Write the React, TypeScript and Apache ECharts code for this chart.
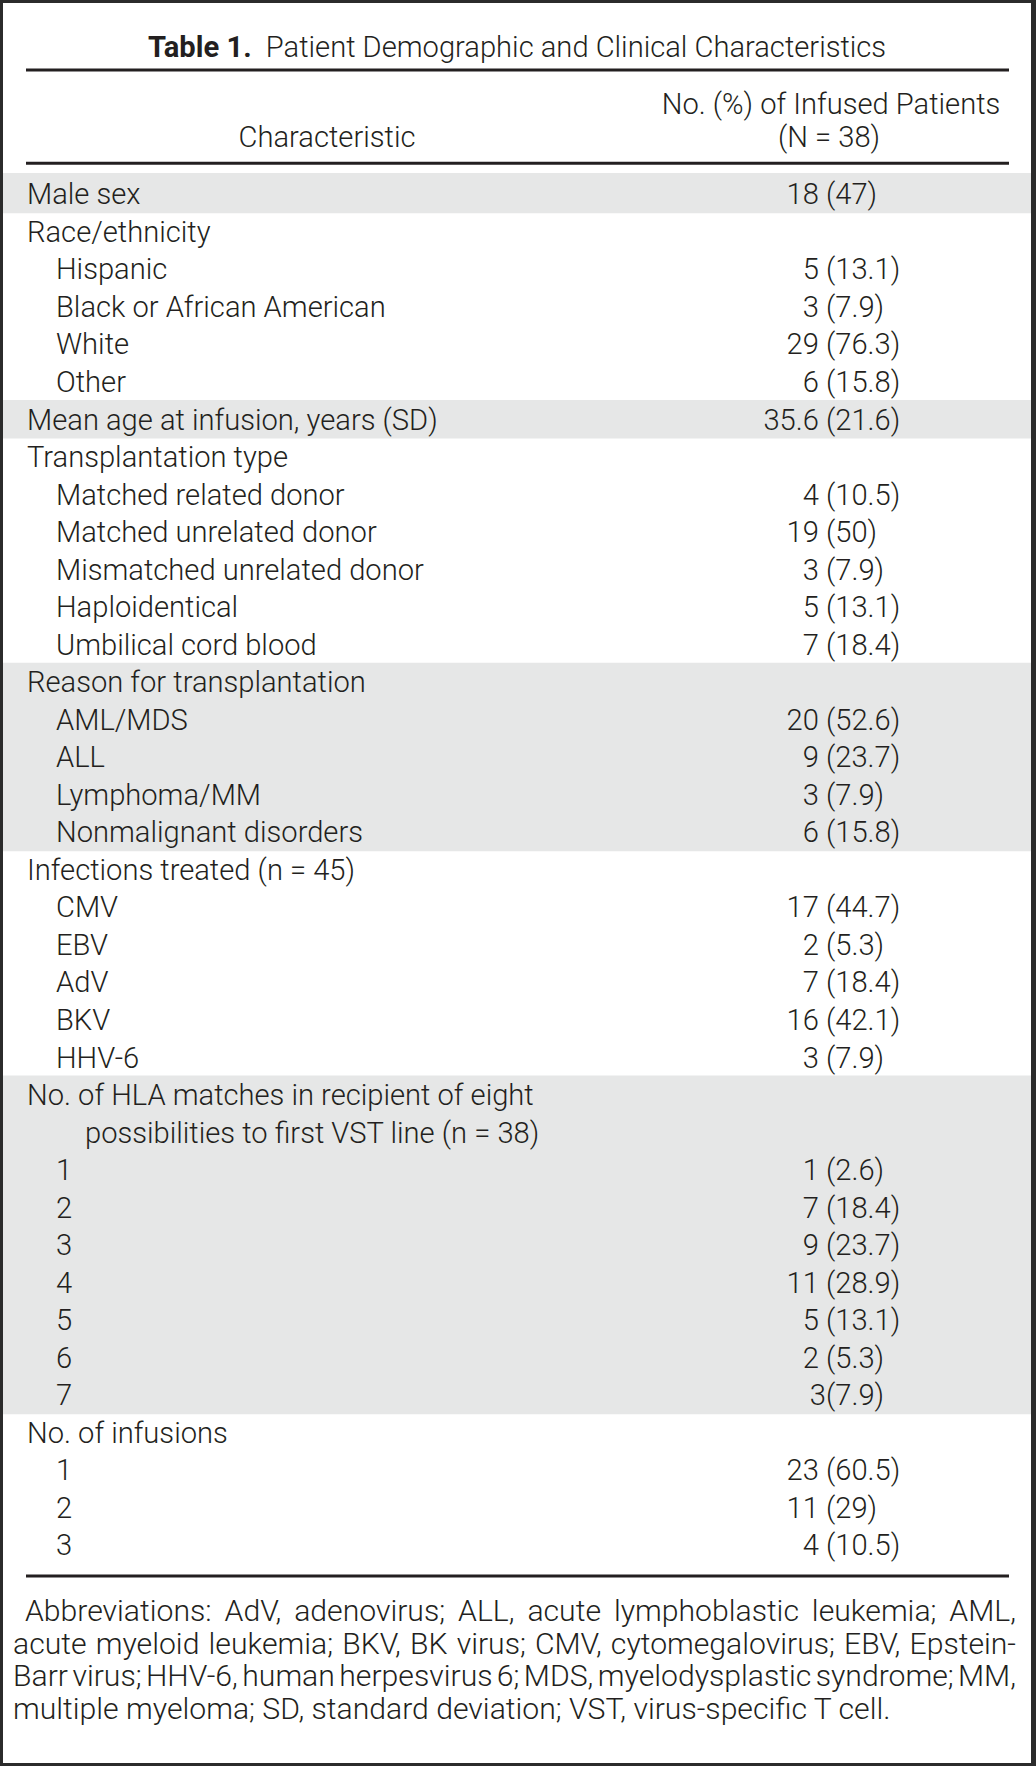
import React, { useEffect, useRef } from 'react';
import * as echarts from 'echarts';

// ---------------- data ----------------
const titleBold = 'Table 1.';
const titleRest = 'Patient Demographic and Clinical Characteristics';
const headLeft = 'Characteristic';
const headRight = ['No. (%) of Infused Patients', '(N = 38)'];

const rowLabels = [
  'Male sex',
  'Race/ethnicity',
  'Hispanic',
  'Black or African American',
  'White',
  'Other',
  'Mean age at infusion, years (SD)',
  'Transplantation type',
  'Matched related donor',
  'Matched unrelated donor',
  'Mismatched unrelated donor',
  'Haploidentical',
  'Umbilical cord blood',
  'Reason for transplantation',
  'AML/MDS',
  'ALL',
  'Lymphoma/MM',
  'Nonmalignant disorders',
  'Infections treated (n = 45)',
  'CMV',
  'EBV',
  'AdV',
  'BKV',
  'HHV-6',
  'No. of HLA matches in recipient of eight',
  'possibilities to first VST line (n = 38)',
  '1',
  '2',
  '3',
  '4',
  '5',
  '6',
  '7',
  'No. of infusions',
  '1',
  '2',
  '3',
];

const rowLevels = [
  0, 0, 1, 1, 1, 1, 0, 0, 1, 1, 1, 1, 1, 0, 1, 1, 1, 1, 0, 1, 1, 1, 1, 1, 0, 2, 1, 1, 1, 1, 1, 1, 1, 0, 1, 1, 1,
];

const rowValues = [
  '18 (47)',
  '',
  '5 (13.1)',
  '3 (7.9)',
  '29 (76.3)',
  '6 (15.8)',
  '35.6 (21.6)',
  '',
  '4 (10.5)',
  '19 (50)',
  '3 (7.9)',
  '5 (13.1)',
  '7 (18.4)',
  '',
  '20 (52.6)',
  '9 (23.7)',
  '3 (7.9)',
  '6 (15.8)',
  '',
  '17 (44.7)',
  '2 (5.3)',
  '7 (18.4)',
  '16 (42.1)',
  '3 (7.9)',
  '',
  '',
  '1 (2.6)',
  '7 (18.4)',
  '9 (23.7)',
  '11 (28.9)',
  '5 (13.1)',
  '2 (5.3)',
  '3(7.9)',
  '',
  '23 (60.5)',
  '11 (29)',
  '4 (10.5)',
];

const rowShaded = [
  1, 0, 0, 0, 0, 0, 1, 0, 0, 0, 0, 0, 0, 1, 1, 1, 1, 1, 0, 0, 0, 0, 0, 0, 1, 1, 1, 1, 1, 1, 1, 1, 1, 0, 0, 0, 0,
];

const footnoteLines = [
  'Abbreviations: AdV, adenovirus; ALL, acute lymphoblastic leukemia; AML,',
  'acute myeloid leukemia; BKV, BK virus; CMV, cytomegalovirus; EBV, Epstein-',
  'Barr virus; HHV-6, human herpesvirus 6; MDS, myelodysplastic syndrome; MM,',
  'multiple myeloma; SD, standard deviation; VST, virus-specific T cell.',
];

// ---------------- style / layout ----------------
const W = 1036;
const H = 1766;
const FAMILY = 'Roboto, "Liberation Sans", Arial, sans-serif';
const WEIGHT = 300;
const INK = '#231f20';
const GRAY = '#e6e7e7';
const FRAME = '#2b2b2b';
const INNER = { x: 3, y: 3, w: 1028, h: 1760 };
const RULE_X0 = 26;
const RULE_X1 = 1009;
const INDENT = [27, 56, 85];
const PAREN_X = 826;
const ROW_TOP = 175.6;
const ROW_PITCH = 37.53;

const ctx = typeof document !== 'undefined' ? document.createElement('canvas').getContext('2d') : null;
function measure(text: string, size: number, weight: number | string = WEIGHT) {
  if (!ctx) return text.length * size * 0.5;
  ctx.font = `${weight} ${size}px ${FAMILY}`;
  return ctx.measureText(text).width;
}

function txt(x: number, y: number, text: string, size: number, align: string, extra: any = {}) {
  return {
    type: 'text',
    x,
    y,
    silent: true,
    z: 10,
    style: {
      text,
      fill: INK,
      fontFamily: FAMILY,
      fontWeight: WEIGHT,
      fontSize: size,
      lineHeight: size,
      align,
      textAlign: align,
      verticalAlign: 'middle',
      textVerticalAlign: 'middle',
      ...extra,
    },
  };
}

export default function App() {
  const ref = useRef<HTMLDivElement>(null);

  useEffect(() => {
    const el = ref.current;
    if (!el) return;
    const chart = echarts.init(el, null, { renderer: 'svg', width: W, height: H });

    // fit font size to reference text widths
    const w1 = measure('Mismatched unrelated donor', 28) + measure('Transplantation type', 28);
    let fs = (28 * (371 + 258)) / w1;
    fs = Math.max(24, Math.min(32, fs));
    const wn = measure(footnoteLines[3], 27);
    let fsNote = (27 * 879) / wn;
    fsNote = Math.max(22, Math.min(31, fsNote));

    const nRows = rowLabels.length;
    const gridBottom = H - (ROW_TOP + nRows * ROW_PITCH);

    const graphics: any[] = [];
    graphics.push({
      type: 'rect',
      z: 0,
      silent: true,
      shape: { x: INNER.x, y: INNER.y, width: INNER.w, height: INNER.h },
      style: { fill: '#ffffff' },
    });
    // rules
    [70, 163.3, 1576].forEach((y) => {
      graphics.push({
        type: 'line',
        z: 10,
        silent: true,
        shape: { x1: RULE_X0, y1: y, x2: RULE_X1, y2: y },
        style: { stroke: INK, lineWidth: 3 },
      });
    });
    // title
    graphics.push(
      txt(517, 47, `{b|${titleBold}}  ${titleRest}`, fs, 'center', {
        rich: {
          b: { fontWeight: 'bold', fontFamily: FAMILY, fontSize: fs, lineHeight: fs, fill: INK },
        },
      })
    );
    // header
    graphics.push(txt(327, 137, headLeft, fs, 'center'));
    graphics.push(txt(831, 103.5, headRight[0], fs, 'center'));
    graphics.push(txt(829, 137, headRight[1], fs, 'center'));

    // footnote (justified)
    const noteY = [1610, 1643, 1675.5, 1708];
    footnoteLines.forEach((line, li) => {
      const x0 = li === 0 ? 25 : 13;
      const x1 = 1016;
      const last = li === footnoteLines.length - 1;
      if (last) {
        graphics.push(txt(x0, noteY[li], line, fsNote, 'left'));
        return;
      }
      const words = line.split(' ');
      const widths = words.map((w) => measure(w, fsNote));
      const total = widths.reduce((a, b) => a + b, 0);
      const gap = (x1 - x0 - total) / (words.length - 1);
      let x = x0;
      words.forEach((w, wi) => {
        graphics.push(txt(x, noteY[li], w, fsNote, 'left'));
        x += widths[wi] + gap;
      });
    });

    const option: any = {
      animation: false,
      backgroundColor: FRAME,
      grid: {
        left: 0,
        right: 0,
        top: ROW_TOP,
        bottom: gridBottom,
        containLabel: false,
        outerBoundsMode: 'none',
      },
      xAxis: {
        type: 'value',
        min: 0,
        max: W,
        show: false,
      },
      yAxis: {
        type: 'value',
        min: -0.5,
        max: nRows - 0.5,
        inverse: true,
        show: false,
      },
      graphic: { elements: graphics },
      series: [
        {
          type: 'custom',
          coordinateSystem: 'cartesian2d',
          z: 2,
          silent: true,
          clip: false,
          encode: { x: 0, y: 1 },
          data: rowLabels.map((_, i) => [0, i]),
          renderItem: (params: any, api: any) => {
            const i = params.dataIndex;
            const yc = api.coord([0, i])[1];
            const band = api.size([0, 1])[1];
            const children: any[] = [];
            if (rowShaded[i]) {
              const top = i === 0 ? yc - band / 2 - 2.5 : yc - band / 2 - 0.8;
              const bottom = yc + band / 2 + 0.2;
              children.push({
                type: 'rect',
                shape: { x: INNER.x, y: top, width: INNER.w, height: bottom - top },
                style: { fill: GRAY },
              });
            }
            children.push(txt(INDENT[rowLevels[i]], yc, rowLabels[i], fs, 'left'));
            const v = rowValues[i];
            if (v) {
              const prefix = v.slice(0, v.indexOf('('));
              const x = PAREN_X - measure(prefix, fs);
              children.push(txt(x, yc, v, fs, 'left'));
            }
            return { type: 'group', children };
          },
        },
      ],
    };

    chart.setOption(option);
    return () => chart.dispose();
  }, []);

  return (
    <div
      ref={ref}
      style={{ position: 'absolute', left: 0, top: 0, width: W, height: H }}
    />
  );
}
